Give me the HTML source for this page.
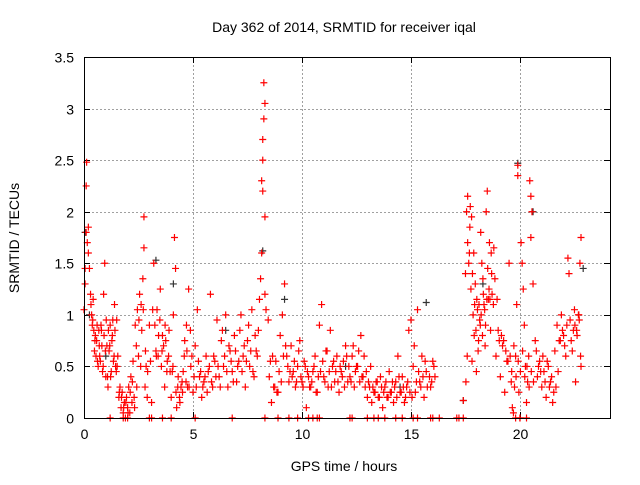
<!DOCTYPE html>
<html><head><meta charset="utf-8"><style>
body{margin:0;background:#fff;}
svg text{font-family:"Liberation Sans",sans-serif;font-size:14px;fill:#000;}
</style></head><body>
<svg id="chart" width="640" height="480" viewBox="0 0 640 480" xmlns="http://www.w3.org/2000/svg">
<rect width="640" height="480" fill="#fff"/>
<text x="344" y="32" text-anchor="middle">Day 362 of 2014, SRMTID for receiver iqal</text>
<g id="grid"></g>
<g id="ticks"></g>
<g id="black"></g>
<g id="red"></g>
<rect x="84.5" y="57.5" width="526" height="361" fill="none" stroke="#000" stroke-width="1"/>
<text x="344" y="471" text-anchor="middle">GPS time / hours</text>
<text transform="translate(19,238) rotate(-90)" text-anchor="middle">SRMTID / TECUs</text>
</svg>
<script>
const xTicks=[0,5,10,15,20];
const yTicks=[0,0.5,1,1.5,2,2.5,3,3.5];
const yTickLabels=["0","0.5","1","1.5","2","2.5","3","3.5"];
const redT=[0.05,0.05,0.1,0.1,0.12,0.15,0.2,0.2,0.25,0.3,0.35,0.4,0.45,0.5,0.0,
0.55,0.6,0.65,0.7,0.75,0.8,0.85,0.9,0.95,1.0,1.05,1.1,1.15,1.2,1.25,1.3,1.35,1.4,1.45,1.5,1.55,
1.6,1.65,1.7,1.75,1.8,1.85,1.9,1.95,2.0,2.05,2.1,2.15,2.2,2.25,2.3,2.35,2.4,
2.45,2.5,2.55,2.6,2.65,2.7,2.75,2.75,2.8,2.85,2.9,3.0,3.1,3.2,
3.3,3.35,3.4,3.5,3.55,3.6,3.7,3.75,3.8,3.9,4.0,4.05,4.1,4.15,4.2,4.25,4.3,4.4,4.5,
4.6,4.7,4.75,4.8,4.9,5.0,5.1,5.2,5.3,5.4,5.5,5.6,5.7,5.8,5.9,6.0,6.1,6.2,6.3,6.4,6.5,6.6,6.7,6.8,6.9,7.0,7.1,7.2,7.3,7.4,7.5,7.6,7.7,7.8,7.9,8.0,8.05,
8.1,8.15,8.15,8.2,8.2,8.25,8.25,8.3,8.2,8.3,8.3,8.35,
8.5,8.6,8.7,8.8,8.9,9.0,9.1,9.2,9.3,9.4,9.5,9.6,9.7,9.8,9.9,10.0,10.1,10.2,10.3,10.4,10.5,
10.6,10.7,10.8,10.9,11.0,11.1,11.2,11.3,11.4,11.5,11.6,11.7,11.8,11.9,12.0,12.1,12.2,12.3,12.4,12.5,12.6,12.7,12.8,12.9,
13.0,13.1,13.2,13.3,13.4,13.5,13.6,13.7,13.8,13.9,14.0,14.1,14.2,14.3,14.4,14.5,14.6,14.7,14.8,14.9,15.0,15.1,15.2,15.3,15.4,15.5,15.6,15.7,15.9,16.0,16.1,
17.4,
17.5,17.55,17.6,17.6,17.65,17.7,17.75,17.8,17.85,17.9,17.95,18.0,18.05,18.1,18.15,18.2,18.25,18.3,18.35,18.4,18.45,18.5,18.55,18.6,18.65,18.7,18.8,18.9,19.0,19.1,19.2,19.3,19.4,19.5,19.6,19.65,19.7,19.75,19.8,19.85,19.9,19.9,19.95,20.0,20.05,20.1,20.15,20.2,20.25,20.3,20.35,20.4,20.45,20.5,20.5,20.55,20.6,20.7,20.8,20.9,21.0,21.1,21.2,21.3,21.4,21.5,21.6,21.7,21.8,21.9,22.0,22.1,22.2,22.25,22.3,22.4,22.5,22.55,22.6,22.7,22.75,22.8,22.8,
1.2,1.8,2.0,3.0,3.1,3.6,4.0,5.1,6.8,8.3,8.9,9.4,9.8,10.3,10.5,10.7,10.8,12.2,12.3,13.0,13.3,13.5,13.8,14.3,14.6,15.1,15.3,15.9,16.0,16.3,17.1,17.2,17.4,19.8,20.0,20.3];
const redV=[1.3,1.45,1.8,2.25,2.48,1.7,1.6,1.85,1.45,1.2,1.0,0.95,0.85,0.75,1.05,
0.6,0.9,0.5,0.7,0.55,0.85,0.45,1.2,1.5,0.4,0.7,0.3,0.65,0.9,0.45,0.8,0.55,1.1,0.5,0.95,0.6,
0.2,0.3,0.1,0.25,0.05,0.15,0.0,0.2,0.1,0.3,0.05,0.4,0.15,0.55,0.2,0.9,0.7,
1.05,0.6,1.2,0.5,0.85,1.35,1.95,1.65,0.3,0.5,0.2,0.9,0.15,1.5,
0.65,1.05,0.6,1.25,0.5,0.8,0.3,0.75,0.45,0.85,0.2,0.45,1.0,1.75,1.45,0.1,0.3,0.15,0.35,
0.6,0.9,0.3,1.25,0.5,0.25,0.7,1.05,0.4,0.2,0.35,0.6,0.45,1.2,0.3,0.55,0.95,0.4,0.75,0.5,1.0,0.3,0.65,0.45,0.8,0.35,0.55,1.0,0.6,0.3,0.75,0.5,1.05,0.4,0.65,0.85,1.15,
1.35,1.6,2.3,2.5,2.7,3.25,2.9,3.05,2.2,1.95,1.2,1.05,
0.4,0.15,0.3,0.55,0.25,0.8,1.0,1.3,0.6,0.35,0.7,0.45,0.3,0.5,0.75,0.35,0.55,0.1,0.4,0.3,0.45,
0.6,0.25,0.9,1.1,0.4,0.65,0.3,0.85,0.5,0.35,0.6,0.25,0.45,0.55,0.7,0.35,0.4,0.6,0.3,0.5,0.65,0.8,0.4,0.3,
0.2,0.3,0.15,0.25,0.35,0.2,0.4,0.1,0.3,0.2,0.45,0.25,0.15,0.35,0.6,0.25,0.4,0.15,0.3,0.85,0.95,0.5,0.25,1.05,0.35,0.6,0.2,0.45,0.3,0.55,0.4,
0.17,
1.4,2.0,2.15,1.7,1.5,1.85,1.25,0.55,1.0,0.8,1.3,0.45,1.05,0.75,0.95,1.8,1.5,1.35,1.1,0.7,2.0,2.2,1.15,1.7,0.85,1.4,1.65,0.6,0.85,0.4,0.7,0.25,0.55,1.5,0.35,0.1,0.05,0.3,0.6,1.1,2.45,2.35,0.25,0.0,1.7,1.5,1.25,0.9,0.5,0.15,0.35,0.6,2.3,2.15,1.75,2.0,1.3,0.75,0.4,0.55,0.3,0.45,0.2,0.5,0.35,0.15,0.65,0.9,0.75,1.0,0.8,0.6,1.55,1.4,0.95,0.65,1.05,0.35,0.85,1.0,1.5,1.75,0.5,
0,0,0,0,0,0,0,0,0,0,0,0,0,0,0,0,0,0,0,0,0,0,0,0,0,0,0,0,0,0,0,0,0,0,0,0];
const redT2=[0.32,0.38,0.42,0.48,0.52,0.58,0.62,0.68,0.72,0.78,0.82,0.88,0.92,0.98,1.02,1.08,1.12,1.18,1.22,1.28,1.32,1.38,1.42,1.48,1.52,
1.62,1.72,1.82,1.92,2.02,2.12,2.22,2.32,2.42,2.52,2.62,2.72,2.82,2.92,3.05,3.15,3.25,3.32,3.42,3.48,3.58,3.65,3.72,3.82,3.88,3.95,4.08,4.22,4.32,4.38,4.45,4.52,
4.55,4.62,4.68,4.72,4.82,4.88,4.95,5.05,5.15,5.25,5.35,5.45,5.55,5.65,5.75,5.85,5.95,6.05,6.15,6.25,6.35,6.45,6.55,6.65,6.75,6.85,6.95,7.05,7.15,7.25,7.35,7.45,7.55,7.65,7.75,7.85,7.95,
8.45,8.55,8.65,8.75,8.85,8.95,9.05,9.15,9.25,9.35,9.45,9.55,9.65,9.75,9.85,9.95,10.05,10.15,10.25,10.35,10.45,10.55,10.65,10.75,10.85,10.95,11.05,11.15,11.25,11.35,11.45,11.55,11.65,11.75,11.85,11.95,12.05,12.15,12.25,12.35,12.45,12.55,12.65,12.75,12.85,12.95,
13.05,13.15,13.25,13.35,13.45,13.55,13.65,13.75,13.85,13.95,14.05,14.15,14.25,14.35,14.45,14.55,14.65,14.75,14.85,14.95,15.05,15.15,15.25,15.35,15.45,15.55,15.65,15.75,15.85,15.95,16.05,
17.52,17.58,17.68,17.72,17.78,17.82,17.88,17.92,17.98,18.02,18.08,18.12,18.18,18.22,18.28,18.32,18.38,18.42,18.48,18.52,18.58,18.62,18.68,18.72,18.78,18.85,18.95,19.05,19.15,19.25,19.35,19.45,19.55,19.62,19.72,19.82,19.92,20.02,20.12,20.22,20.32,20.42,20.52,20.62,20.75,20.85,20.95,21.05,21.15,21.25,21.35,21.45,21.55,21.65,21.75,21.85,21.95,22.05,22.15,22.35,22.45,22.52,22.62,22.68,22.72,22.78];
const redV2=[1.1,0.9,1.15,0.65,0.8,0.75,0.55,0.85,0.6,0.9,0.7,0.5,0.8,0.65,0.95,0.4,0.85,0.7,0.4,0.75,0.95,0.6,0.85,0.45,0.5,
0.25,0.2,0.1,0.15,0.05,0.25,0.35,0.1,0.3,0.95,1.1,1.05,0.65,0.45,0.55,1.05,0.9,0.6,0.8,0.95,0.65,0.7,0.9,0.55,0.6,0.45,0.5,0.25,0.4,0.2,0.3,0.25,
0.45,0.75,0.35,0.65,0.3,0.85,0.6,0.4,0.3,0.55,0.45,0.3,0.4,0.25,0.5,0.35,0.6,0.4,0.5,0.3,0.85,0.6,0.45,0.7,0.55,0.35,0.65,0.5,0.85,0.45,0.7,0.55,0.9,0.65,0.45,0.8,0.6,0.95,0.55,
0.6,0.3,0.25,0.45,0.35,0.6,0.7,0.5,0.45,0.4,0.55,0.35,0.65,0.4,0.3,0.5,0.45,0.3,0.35,0.5,0.25,0.4,0.45,0.55,0.35,0.65,0.45,0.3,0.55,0.45,0.35,0.5,0.4,0.3,0.6,0.5,0.35,0.7,0.45,0.5,0.35,0.4,0.6,0.45,0.35,0.5,
0.3,0.25,0.35,0.2,0.3,0.25,0.35,0.2,0.25,0.35,0.3,0.2,0.4,0.25,0.3,0.2,0.35,0.25,0.2,0.7,0.35,0.45,0.3,0.4,0.55,0.3,0.4,0.35,0.5,0.35,0.6,
1.6,2.05,1.95,1.4,1.6,1.1,0.85,1.15,0.65,1.1,0.9,1.0,0.8,1.2,1.05,0.9,1.15,1.45,1.25,1.15,1.6,1.2,1.1,1.35,1.15,0.75,0.8,0.75,0.65,0.55,0.6,0.45,0.7,0.4,0.55,0.45,0.65,0.4,0.5,0.3,0.45,0.35,0.65,0.5,0.45,0.6,0.35,0.55,0.3,0.4,0.25,0.3,0.45,0.75,0.85,0.7,0.9,0.75,0.85,0.9,0.8,1.0,0.95,0.6,1.0,0.85];
const blackT=[0.05,0.25,8.2,19.9,20.6,17.4,22.9,3.3,4.1,9.2,15.7,18.3,1.0,6.5,12.0,14.5];
const blackV=[1.8,1.0,1.62,2.47,2.0,0.17,1.45,1.53,1.3,1.15,1.12,1.3,0.6,0.85,0.5,0.3];

const L=84,R=610,T=57,B=418,XMAX=24.13,YMAX=3.5;
function xs(v){return L+(R-L)*v/XMAX;}
function ys(v){return B-(B-T)*v/YMAX;}
const NS="http://www.w3.org/2000/svg";
function mk(tag,attrs,parent){const e=document.createElementNS(NS,tag);for(const k in attrs)e.setAttribute(k,attrs[k]);parent.appendChild(e);return e;}
const grid=document.getElementById('grid'),ticks=document.getElementById('ticks');
xTicks.forEach(function(t){
  const x=Math.round(xs(t))+0.5;
  if(t>0){const g=mk('line',{x1:x,x2:x,y1:T,y2:B,stroke:'#a0a0a0','stroke-dasharray':'2,2'},grid);
  
  }
  mk('line',{x1:x,x2:x,y1:B,y2:B-6,stroke:'#000'},ticks);
  mk('line',{x1:x,x2:x,y1:T,y2:T+6,stroke:'#000'},ticks);
  const tx=mk('text',{x:x,y:B+21,'text-anchor':'middle'},ticks);tx.textContent=String(t);
  
  
});
yTicks.forEach(function(t,i){
  const y=Math.round(ys(t))+0.5;
  if(t>0&&t<YMAX){const g=mk('line',{x1:L,x2:R,y1:y,y2:y,stroke:'#a0a0a0','stroke-dasharray':'2,2'},grid);
  
  }
  mk('line',{x1:L,x2:L+6,y1:y,y2:y,stroke:'#000'},ticks);
  mk('line',{x1:R,x2:R-6,y1:y,y2:y,stroke:'#000'},ticks);
  const tx=mk('text',{x:L-10,y:y+5,'text-anchor':'end'},ticks);tx.textContent=yTickLabels[i];
  
  
});
function plot(g,tArr,vArr,color,name){
  for(let i=0;i<tArr.length;i++){
    const x=xs(tArr[i]),y=ys(vArr[i]);
    const p=mk('path',{d:'M'+(x-3.5)+' '+y+'h7M'+x+' '+(y-3.5)+'v7',stroke:color,'stroke-width':1.2,fill:'none'},g);
    
    
  }
}
plot(document.getElementById('black'),blackT,blackV,'#333','black-point');
plot(document.getElementById('red'),redT,redV,'#ff0000','red-point');
plot(document.getElementById('red'),redT2,redV2,'#ff0000','red-point');
</script>
</body></html>
